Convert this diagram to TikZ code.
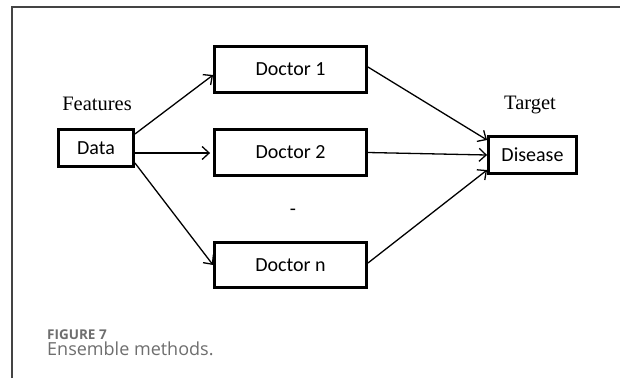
\documentclass[tikz,border=0pt]{standalone}
\usepackage{fontspec}
\setmainfont{Liberation Serif}
\newfontfamily\boxfont{Carlito}
\newfontfamily\capfont{Open Sans}
\usetikzlibrary{arrows.meta,calc}
\definecolor{framegray}{HTML}{444444}
\definecolor{capgray}{HTML}{6E6E6E}
\tikzset{
  box/.style={draw=black, line width=3.4pt, fill=white, inner sep=0pt, font=\boxfont\fontsize{20}{23}\selectfont},
  link/.style={line width=1.3pt, -{Straight Barb[length=7pt,width=13pt,line width=1.3pt]}},
  lbl/.style={inner sep=0pt, font=\fontsize{20.5}{24}\selectfont}
}
\begin{document}
\begin{tikzpicture}[x=1pt,y=-1pt]
\useasboundingbox (0,0) rectangle (620,378);
\fill[white] (0,0) rectangle (620,378);
% frame
\draw[framegray, line width=1.5pt] (12,378) -- (12,7) -- (620,7);
% nodes
\node[box, minimum width=74.5pt, minimum height=37.5pt] (data) at (96,148) {Data};
\node[box, minimum width=151.5pt, minimum height=45.5pt] (d1) at (290.5,69.5) {Doctor 1};
\node[box, minimum width=151.5pt, minimum height=45.5pt] (d2) at (290.5,152.5) {Doctor 2};
\node[box, minimum width=151.5pt, minimum height=44.5pt] (dn) at (290.5,265) {Doctor n};
\node[box, minimum width=87.5pt, minimum height=36.5pt] (dis) at (532.5,155) {Disease};
\node[lbl] (feat) at (97,104) {Features};
\node[lbl] (targ) at (530,105) {Target};
\node[inner sep=0pt, font=\boxfont\fontsize{20}{23}\selectfont] (dots) at (293,212) {-};
% connectors
\draw[link] ([yshift=14pt]data.east) -- ([yshift=-5.5pt]d1.west);
\draw[link, shorten >=3pt] ([yshift=-5pt]data.east) -- ([yshift=-0.5pt]d2.west);
\draw[link] ([yshift=-15pt]data.east) -- (dn.west);
\draw[link] ([yshift=2.5pt]d1.east) -- ([yshift=15pt]dis.west);
\draw[link] (d2.east) -- (dis.west);
\draw[link] ([yshift=2pt]dn.east) -- ([yshift=-15pt]dis.west);
% caption
\node[anchor=base west, inner sep=0pt, text=capgray, font=\capfont\bfseries\fontsize{13.5}{16}\selectfont] (fig) at (47,339) {FIGURE 7};
\node[anchor=base west, inner sep=0pt, text=capgray, font=\capfont\fontsize{18}{21}\selectfont] (cap) at (47,355) {Ensemble methods.};
\end{tikzpicture}
\end{document}
